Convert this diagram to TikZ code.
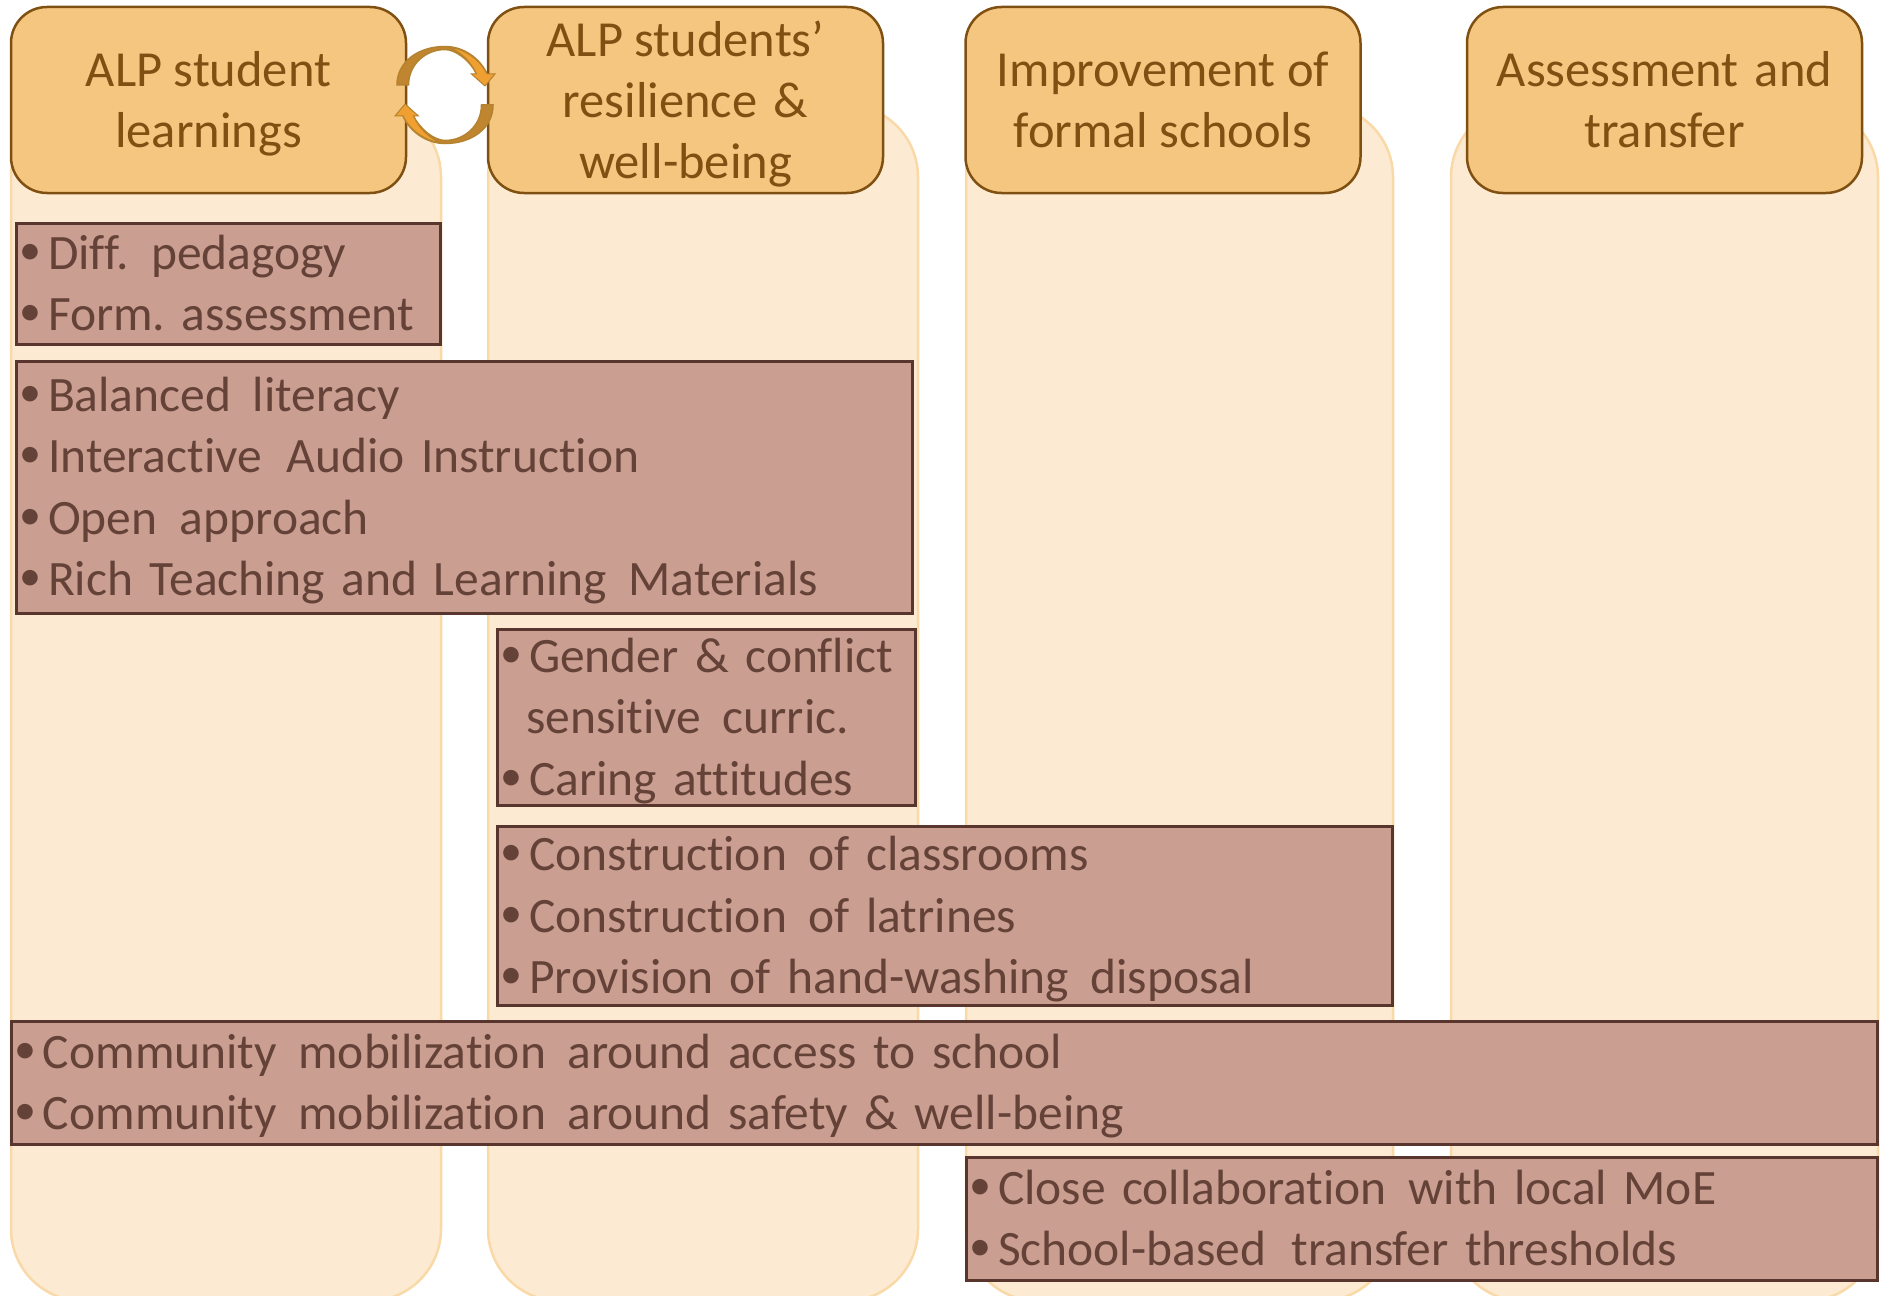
\documentclass[tikz,border=0pt]{standalone}
\usepackage{fontspec}
\setmainfont{Carlito}[Ligatures=NoCommon]
\frenchspacing
\definecolor{hfill}{HTML}{F5C680}
\definecolor{hline}{HTML}{7F5012}
\definecolor{cfill}{HTML}{FCEBD2}
\definecolor{cline}{HTML}{FAD9A8}
\definecolor{rfill}{HTML}{CA9E91}
\definecolor{rline}{HTML}{59362D}
\definecolor{rtext}{HTML}{654238}
\definecolor{adark}{HTML}{C0862F}
\definecolor{alight}{HTML}{F0A030}
\definecolor{aline}{HTML}{B5832F}
\newcommand{\rs}{\rule[-12pt]{0pt}{57pt}}
\newcommand{\rc}{\rule[-9.8pt]{0pt}{53pt}}
\newcommand{\hs}{\rule[-12pt]{0pt}{57pt}}
\newcommand{\wsp}{\hspace{5pt}}
\newcommand{\bulletmark}{\makebox[24pt][l]{\hspace{-5pt}\raisebox{5pt}{\fontsize{44}{44}\selectfont •}}}
\newcommand{\bl}{\rs\bulletmark}
\newcommand{\blc}{\rc\bulletmark}
\tikzset{
  x=1pt,y=-1pt,
  colbox/.style={draw=cline,fill=cfill,line width=2.5pt,rounded corners=72pt,anchor=north west,inner sep=0pt,outer sep=0pt},
  headbox/.style={draw=hline,fill=hfill,line width=2.5pt,rounded corners=36pt,anchor=center,align=center,text=hline,inner sep=0pt,outer sep=0pt,
    minimum width=395pt,minimum height=186pt,font=\fontsize{50.5}{61}\selectfont},
  rustbox/.style={draw=rline,fill=rfill,line width=3pt,anchor=north west,align=left,text=rtext,inner ysep=0pt,inner xsep=8pt,outer sep=0pt,
    font=\fontsize{49.5}{61.3}\selectfont},
  arrowbody/.style={fill=adark,draw=aline,line width=1.5pt},
  arrowhead/.style={fill=alight,draw=aline,line width=1pt},
}
\newcommand{\circarrow}[1]{%
  \begin{scope}[rotate around={#1:(445,95)}]
    \path[arrowbody] (397,85) .. controls (397,62) and (418,46.5) .. (445,46.5) .. controls (463,46.5) and (480,58) .. (487,74) -- (476.5,74) .. controls (470,60) and (455,49.5) .. (445,49.5) .. controls (425,49.5) and (408.5,65) .. (408.5,85) -- cycle;
    \path[arrowhead] (450,47.5) .. controls (465,49) and (480,60) .. (487,74) -- (495,74) -- (485,86) -- (471.5,74) -- (476.5,74) .. controls (470,60) and (460,52) .. (450,47.5) -- cycle;
  \end{scope}}
\begin{document}
\begin{tikzpicture}
\useasboundingbox (0,0) rectangle (1886,1295);
\node[colbox,minimum width=430pt,minimum height=1196pt] (col1) at (11,105) {};
\node[colbox,minimum width=430pt,minimum height=1196pt] (col2) at (488,105) {};
\node[colbox,minimum width=427pt,minimum height=1196pt] (col3) at (966,105) {};
\node[colbox,minimum width=427pt,minimum height=1196pt] (col4) at (1451,105) {};
\node[headbox] (h1) at (208.5,100) {\hs ALP student\\\hs learnings};
\node[headbox] (h2) at (685.5,100) {\rule[-12pt]{0pt}{59.4pt}ALP students’\\\hs resilience \wsp\&\\\hs well-being};
\node[headbox] (h3) at (1163,100) {\hs Improvement of\\\hs formal schools};
\node[headbox] (h4) at (1664.5,100) {\hs Assessment \wsp and\\\hs transfer};
\circarrow{0}
\circarrow{180}
\node[rustbox,minimum width=424pt,minimum height=121pt,text width=408pt] (a) at (16,223) {\bl Diff. \hspace{6pt}pedagogy\\\bl Form. assessment};
\node[rustbox,minimum width=896pt,minimum height=252pt,text width=880pt] (b) at (16,361) {\bl Balanced \wsp literacy\\\bl Interactive \hspace{8pt}Audio Instruction\\\bl Open \hspace{6pt}approach\\\bl Rich Teaching and Learning \wsp Materials};
\node[rustbox,minimum width=418pt,minimum height=176pt,text width=402pt] (c) at (497,629) {\blc Gender \& conflict\\\rc\hspace{21pt}sensitive \wsp curric.\\\blc Caring attitudes};
\node[rustbox,minimum width=895pt,minimum height=179pt,text width=879pt] (d) at (497,826) {\blc Construction \wsp of classrooms\\\blc Construction \wsp of latrines\\\blc Provision of hand-washing \wsp disposal};
\node[rustbox,minimum width=1866pt,minimum height=123pt,text width=1850pt] (e) at (11,1021) {\bl Community \wsp mobilization \wsp around access to school\\\bl Community \wsp mobilization \wsp around safety \& well-being};
\node[rustbox,minimum width=911pt,minimum height=123pt,text width=895pt] (f) at (966,1157) {\bl Close collaboration \wsp with local MoE\\\bl School-based \hspace{9pt}transfer thresholds};
\end{tikzpicture}
\end{document}
